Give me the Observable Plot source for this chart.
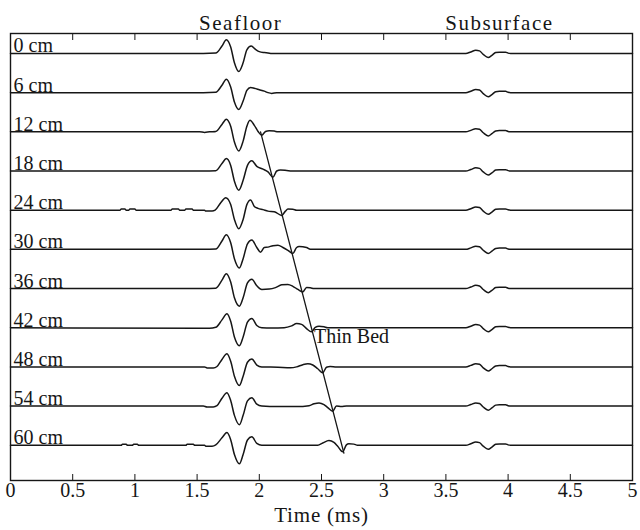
<!DOCTYPE html>
<html><head><meta charset="utf-8">
<script src="https://cdn.jsdelivr.net/npm/d3@7"></script>
<script src="https://cdn.jsdelivr.net/npm/@observablehq/plot@0.6"></script>
<style>body{margin:0;background:#fff}</style>
</head><body><div id="chart"></div>
<script>
// ---- data ----
const depths = [0, 6, 12, 18, 24, 30, 36, 42, 48, 54, 60];
const depthLabels = ["0 cm","6 cm","12 cm","18 cm","24 cm","30 cm","36 cm","42 cm","48 cm","54 cm","60 cm"];
const xTicks = [0, 0.5, 1, 1.5, 2, 2.5, 3, 3.5, 4, 4.5, 5];
const xTickLabels = ["0","0.5","1","1.5","2","2.5","3","3.5","4","4.5","5"];
const eventTitles = ["Seafloor", "Subsurface"];
const eventTimes = [1.85, 3.93];
const xLabel = "Time (ms)";
const thinBedLabel = {t: 2.44, depth: 43.3, text: "Thin Bed"};
// thin bed event line (time ms, depth-offset cm)
const thinBedLine = [{t: 2.01, depth: 12}, {t: 2.68, depth: 61.2}];

// traces: [time ms, normalised amplitude]
const trace0 = [[0,0],[1.55,0],[1.65,0.02],[1.70,0.4],[1.735,0.74],[1.77,0.35],[1.80,-0.5],[1.835,-0.97],[1.87,-0.5],[1.90,0.2],[1.935,0.4],[1.97,0.22],[2.0,0.1],[2.04,0.05],[2.07,0.03],[2.10,0]];
const trace6 = [[0,0],[1.55,0],[1.65,0.02],[1.70,0.4],[1.735,0.72],[1.77,0.3],[1.80,-0.5],[1.835,-0.9],[1.87,-0.45],[1.90,0.12],[1.93,0.28],[1.96,0.24],[2.0,0.16],[2.04,0.08],[2.07,0.0],[2.10,-0.04],[2.14,0]];
const trace12 = [[0,0],[1.52,0],[1.56,-0.03],[1.60,0],[1.65,0.02],[1.70,0.4],[1.735,0.68],[1.77,0.3],[1.80,-0.55],[1.835,-1.03],[1.87,-0.5],[1.90,0.3],[1.925,0.62],[1.96,0.35],[1.99,0.02],[2.02,-0.18],[2.05,0.02],[2.08,0.06],[2.12,0.04],[2.15,0]];
const trace18 = [[0,0],[1.55,0],[1.65,0.02],[1.70,0.4],[1.735,0.67],[1.77,0.3],[1.80,-0.55],[1.835,-1.03],[1.87,-0.5],[1.905,0.3],[1.94,0.55],[1.98,0.25],[2.03,0.1],[2.07,-0.05],[2.11,-0.33],[2.14,0],[2.17,0.06],[2.22,0.03],[2.26,0]];
const trace24 = [[0,0],[0.88,0],[0.89,0.06],[0.92,0.06],[0.93,0],[0.95,0],[0.96,0.06],[1.0,0.06],[1.01,0],[1.29,0],[1.30,0.06],[1.35,0.06],[1.36,0],[1.40,0],[1.41,0.06],[1.46,0.06],[1.47,0],[1.56,0],[1.57,-0.05],[1.62,-0.05],[1.645,0],[1.69,0.4],[1.73,0.67],[1.77,0.3],[1.80,-0.5],[1.835,-1.0],[1.87,-0.5],[1.90,0.3],[1.93,0.55],[1.96,0.2],[1.99,0.1],[2.03,0.03],[2.07,-0.05],[2.12,-0.08],[2.18,-0.28],[2.21,-0.05],[2.23,0.06],[2.27,0.05],[2.30,0]];
const trace30 = [[0,0],[1.55,0],[1.65,0.02],[1.70,0.45],[1.735,0.78],[1.77,0.35],[1.80,-0.5],[1.84,-1.0],[1.87,-0.5],[1.905,0.3],[1.94,0.5],[1.98,0.1],[2.01,-0.15],[2.04,0.1],[2.07,0.12],[2.11,0.2],[2.15,0.22],[2.19,0.1],[2.23,-0.05],[2.27,-0.22],[2.30,0.1],[2.32,0.15],[2.38,0.1],[2.41,0]];
const trace36 = [[0,0],[1.55,0],[1.65,0.02],[1.70,0.45],[1.735,0.8],[1.77,0.35],[1.80,-0.5],[1.84,-0.95],[1.87,-0.5],[1.905,0.3],[1.94,0.5],[1.98,0.15],[2.02,-0.05],[2.08,-0.03],[2.13,0.05],[2.18,0.2],[2.23,0.22],[2.27,0.12],[2.31,-0.05],[2.35,-0.18],[2.38,0.05],[2.41,0.04],[2.44,0]];
const trace42 = [[0,0],[1.55,-0.03],[1.60,-0.03],[1.65,0.02],[1.70,0.42],[1.74,0.75],[1.77,0.35],[1.80,-0.5],[1.84,-0.97],[1.87,-0.5],[1.905,0.3],[1.94,0.5],[1.98,0.12],[2.02,0],[2.10,-0.02],[2.20,0],[2.26,0.1],[2.30,0.22],[2.34,0.18],[2.38,-0.05],[2.42,-0.22],[2.45,0.02],[2.48,0.08],[2.52,0.05],[2.55,0]];
const trace48 = [[0,0],[1.56,0],[1.58,-0.06],[1.63,-0.06],[1.66,0.02],[1.70,0.4],[1.74,0.7],[1.77,0.3],[1.80,-0.5],[1.84,-1.0],[1.87,-0.5],[1.905,0.25],[1.94,0.42],[1.98,0.1],[2.02,0],[2.15,-0.02],[2.25,-0.05],[2.30,0],[2.35,0.12],[2.39,0.17],[2.43,0.1],[2.47,-0.1],[2.51,-0.32],[2.54,-0.02],[2.57,0.02],[2.62,0]];
const trace54 = [[0,0],[1.55,0],[1.58,-0.05],[1.63,-0.05],[1.66,0.02],[1.70,0.42],[1.74,0.72],[1.77,0.3],[1.80,-0.5],[1.84,-1.0],[1.87,-0.5],[1.905,0.28],[1.94,0.45],[1.98,0.1],[2.02,0],[2.15,-0.03],[2.30,-0.03],[2.40,0.02],[2.44,0.12],[2.48,0.17],[2.52,0.08],[2.55,-0.08],[2.59,-0.28],[2.62,0],[2.66,-0.03],[2.70,0]];
const trace60 = [[0,0],[0.89,0],[0.90,0.06],[0.93,0.06],[0.94,0],[0.98,0],[0.99,0.06],[1.02,0.06],[1.03,0],[1.41,0],[1.42,0.06],[1.47,0.06],[1.48,0],[1.56,0],[1.57,-0.05],[1.62,-0.05],[1.65,0.02],[1.70,0.4],[1.74,0.68],[1.77,0.3],[1.80,-0.5],[1.84,-1.0],[1.87,-0.5],[1.905,0.28],[1.94,0.45],[1.98,0.1],[2.02,0],[2.47,0],[2.51,0.12],[2.56,0.25],[2.60,0.15],[2.63,-0.05],[2.67,-0.35],[2.70,0.02],[2.72,0.08],[2.76,0.06],[2.79,0]];
// subsurface reflection (same in all traces)
const subsurface = [[3.66,0],[3.70,0.08],[3.74,0.17],[3.77,0.14],[3.80,-0.05],[3.84,-0.22],[3.87,-0.1],[3.90,0.05],[3.93,0.07],[3.98,0.07],[4.0,0.02],[4.02,0],[5,0]];

const traces = [trace0, trace6, trace12, trace18, trace24, trace30, trace36, trace42, trace48, trace54, trace60];

// ---- build table ----
const gain = 2.85; // display gain: cm of offset per unit amplitude
const rows = [];
traces.forEach((tr, k) => {
  for (const [t, a] of [...tr, ...subsurface]) rows.push({depth: depths[k], t, y: -depths[k] + a * gain});
});
const labelRows = depths.map((d, i) => ({y: -d, text: depthLabels[i]}));

const font = "Liberation Serif";
const ink = "#161616";

const chart = Plot.plot({
  width: 640,
  height: 530,
  marginLeft: 10,
  marginRight: 8,
  marginTop: 33,
  marginBottom: 50,
  style: {fontFamily: font, background: "#fff", color: ink},
  x: {domain: [0, 5]},
  y: {domain: [-65.4, 3.06], axis: null},
  marks: [
    Plot.line(rows, {x: "t", y: "y", z: "depth", stroke: ink, strokeWidth: 1.5, curve: "monotone-x"}),
    Plot.line(thinBedLine, {x: "t", y: d => -d.depth, stroke: ink, strokeWidth: 1.3}),
    Plot.text(labelRows, {x: 0, y: "y", text: "text", textAnchor: "start", lineAnchor: "bottom", dx: 3, dy: -1, fontSize: 20, fontFamily: font, fill: ink}),
    Plot.text([thinBedLabel], {x: "t", y: d => -d.depth, text: "text", textAnchor: "start", lineAnchor: "middle", fontSize: 20, fontFamily: font, fill: ink}),
    Plot.text(eventTitles, {x: (d, i) => eventTimes[i], text: d => d, frameAnchor: "top", lineAnchor: "bottom", dy: -4, fontSize: 21, fontFamily: font, fill: ink}),
    Plot.axisX({anchor: "top", ticks: xTicks, tickSize: 6, dy: 6, text: null, label: null, stroke: ink}),
    Plot.axisX({anchor: "bottom", ticks: xTicks, tickSize: 6, dy: -6, text: null, label: null, stroke: ink}),
    Plot.axisX({anchor: "bottom", ticks: xTicks, tickSize: 0, tickPadding: 2, tickFormat: (d, i) => xTickLabels[i], label: null, fontSize: 20, fontFamily: font, fill: ink}),
    Plot.text([xLabel], {frameAnchor: "bottom", text: d => d, lineAnchor: "middle", dy: 35, fontSize: 21, fontFamily: font, fill: ink}),
    Plot.frame({stroke: ink, strokeWidth: 1.4})
  ]
});
d3.select(chart).selectAll("text")
  .filter(function() { return eventTitles.includes(this.textContent); })
  .style("letter-spacing", "1.5px");
d3.select(chart).selectAll("text")
  .filter(function() { return this.textContent === xLabel; })
  .style("letter-spacing", "0.8px");
document.getElementById("chart").appendChild(chart);
</script>
</body></html>
